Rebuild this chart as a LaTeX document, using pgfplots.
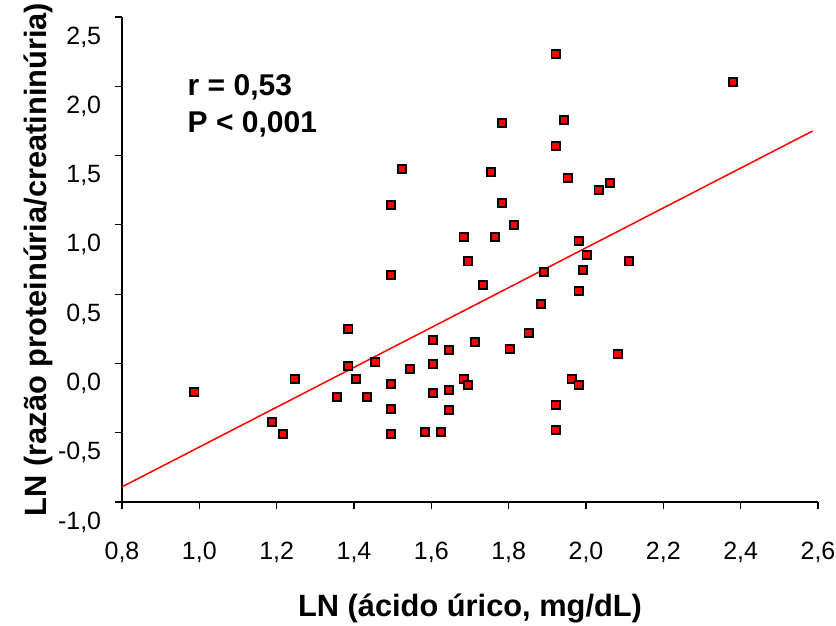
\documentclass[border=0pt]{standalone}
\usepackage{fontspec}
\setmainfont{Liberation Sans}
\usepackage{pgfplots}
\pgfplotsset{compat=1.18}

\pgfplotstableread{
x y
0.987 -0.206
1.188 -0.422
1.216 -0.509
1.247 -0.112
1.356 -0.242
1.385 0.249
1.385 -0.018
1.405 -0.112
1.434 -0.242
1.455 0.011
1.496 1.144
1.496 0.639
1.496 -0.148
1.496 -0.328
1.496 -0.509
1.524 1.403
1.545 -0.040
1.584 -0.494
1.604 0.170
1.604 -0.004
1.604 -0.213
1.625 -0.494
1.646 0.097
1.646 -0.191
1.646 -0.336
1.684 0.913
1.684 -0.112
1.695 0.736
1.695 -0.155
1.713 0.155
1.734 0.566
1.754 1.382
1.765 0.913
1.783 1.735
1.783 1.158
1.803 0.105
1.814 0.999
1.852 0.220
1.884 0.429
1.891 0.660
1.922 2.233
1.922 1.569
1.922 -0.299
1.922 -0.480
1.943 1.757
1.953 1.338
1.963 -0.112
1.981 0.884
1.981 0.523
1.981 -0.155
1.992 0.675
2.002 0.783
2.033 1.252
2.062 1.302
2.082 0.069
2.111 0.736
2.380 2.031
}\pontos

\begin{document}
\begin{tikzpicture}
\begin{axis}[
  name=ax,
  scale only axis,
  width=348pt, height=242.5pt,
  xmin=0.8, xmax=2.6, ymin=-1, ymax=2.5,
  axis lines=left,
  axis line style={-, line width=0.6pt},
  tick align=outside,
  major tick length=3.5pt,
  tick style={black, line width=0.6pt},
  xtick={0.8,1,1.2,1.4,1.6,1.8,2,2.2,2.4,2.6},
  ytick={-1,-0.5,0,0.5,1,1.5,2,2.5},
  /pgf/number format/use comma,
  /pgf/number format/fixed,
  /pgf/number format/fixed zerofill,
  /pgf/number format/precision=1,
  /pgf/number format/assume math mode=true,
  ticklabel style={font=\fontsize{12.5}{14}\selectfont},
  xticklabel style={yshift=-13pt},
  yticklabel style={xshift=-3.4pt, yshift=-10pt},
  xlabel={LN (ácido úrico, mg/dL)},
  ylabel={LN (razão proteinúria/creatininúria)},
  label style={font=\fontsize{15.4}{18}\selectfont\bfseries},
  xlabel style={at={(axis description cs:0.5,-0.2186)}, anchor=center},
  ylabel style={at={(axis description cs:-0.1207,0.5)}, anchor=center},
  clip=false,
]
  % linha de regressao
  \addplot[red, line width=0.75pt, no marks] coordinates {(0.8,-0.891) (2.586,1.677)};
  \addplot[only marks, mark=square*, mark size=2.1pt,
    mark options={fill=red, draw=black, line width=0.85pt}] table[x=x, y=y] {\pontos};
  \node[anchor=base west, inner sep=0, font=\fontsize{15}{18}\selectfont\bfseries]
    at (axis cs:0.969,1.930) {r = 0,53};
  \node[anchor=base west, inner sep=0, font=\fontsize{15}{18}\selectfont\bfseries]
    at (axis cs:0.969,1.670) {P < 0,001};
\end{axis}
% margens como na figura original
\pgfresetboundingbox
\path ([xshift=-61pt,yshift=-62pt]ax.south west) rectangle ([xshift=9pt,yshift=8.5pt]ax.north east);
\end{tikzpicture}
\end{document}
